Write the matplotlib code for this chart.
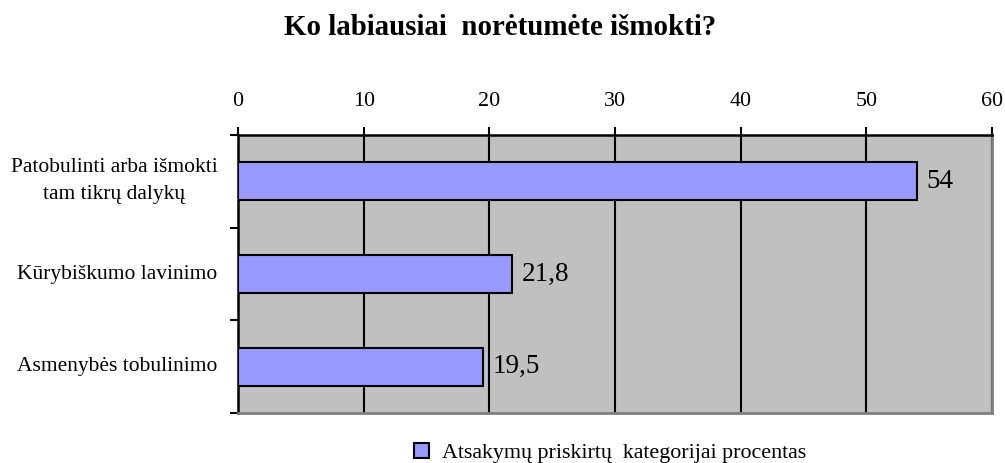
import matplotlib.pyplot as plt
import numpy as np

# survey answers, percent of respondents
categories = ['Patobulinti arba išmokti\ntam tikrų dalykų', 'Kūrybiškumo lavinimo', 'Asmenybės tobulinimo']
values = [54, 21.8, 19.5]
value_labels = ['54', '21,8', '19,5']
x_ticks = [0, 10, 20, 30, 40, 50, 60]

plt.rcParams['font.family'] = ['Liberation Serif', 'DejaVu Serif']

fig = plt.figure(figsize=(10.05, 4.63), dpi=100)
ax = fig.add_axes([0.2368, 0.108, 0.987 - 0.2368, 0.7084 - 0.108])
ax.set_facecolor('#c0c0c0')

y = np.arange(len(categories))
bars = ax.barh(y, values, height=0.41, color='#9999ff', edgecolor='black', linewidth=1.5, zorder=3,
               label='Atsakymų priskirtų  kategorijai procentas')
for b, lab in zip(bars, value_labels):
    ax.text(b.get_width() + 0.75, b.get_y() + b.get_height() / 2, lab,
            va='center', ha='left', fontsize=19.5, zorder=4)

ax.set_xlim(0, 60)
ax.set_ylim(len(categories) - 0.5, -0.5)
ax.xaxis.tick_top()
ax.set_xticks(x_ticks)
ax.tick_params(axis='x', direction='out', length=6, width=1.5, labelsize=15.8, pad=11)
ax.grid(axis='x', color='black', linewidth=1.5, zorder=1)

# category boundaries get the ticks, names sit between them
ax.set_yticks(np.arange(len(categories) + 1) - 0.5)
ax.set_yticklabels([])
ax.tick_params(axis='y', direction='out', length=6, width=1.5)
for yi, name in zip(y, categories):
    ax.text(-0.027, yi, name, transform=ax.get_yaxis_transform(), ha='right', va='center',
            fontsize=15.5, multialignment='center', linespacing=1.55)

ax.spines['top'].set_linewidth(1.8)
ax.spines['left'].set_linewidth(1.8)
ax.spines['right'].set_color('#808080')
ax.spines['bottom'].set_color('#808080')
ax.spines['right'].set_linewidth(2)
ax.spines['bottom'].set_linewidth(2)

fig.text(0.4975, 0.94, 'Ko labiausiai  norėtumėte išmokti?', ha='center', va='center',
         fontsize=20.8, fontweight='bold')

fig.legend(loc='center', bbox_to_anchor=(0.607, 0.022), frameon=False, fontsize=15.8,
           handlelength=0.7, handleheight=0.7, handletextpad=0.6)

fig.savefig('out.png', dpi=100)
